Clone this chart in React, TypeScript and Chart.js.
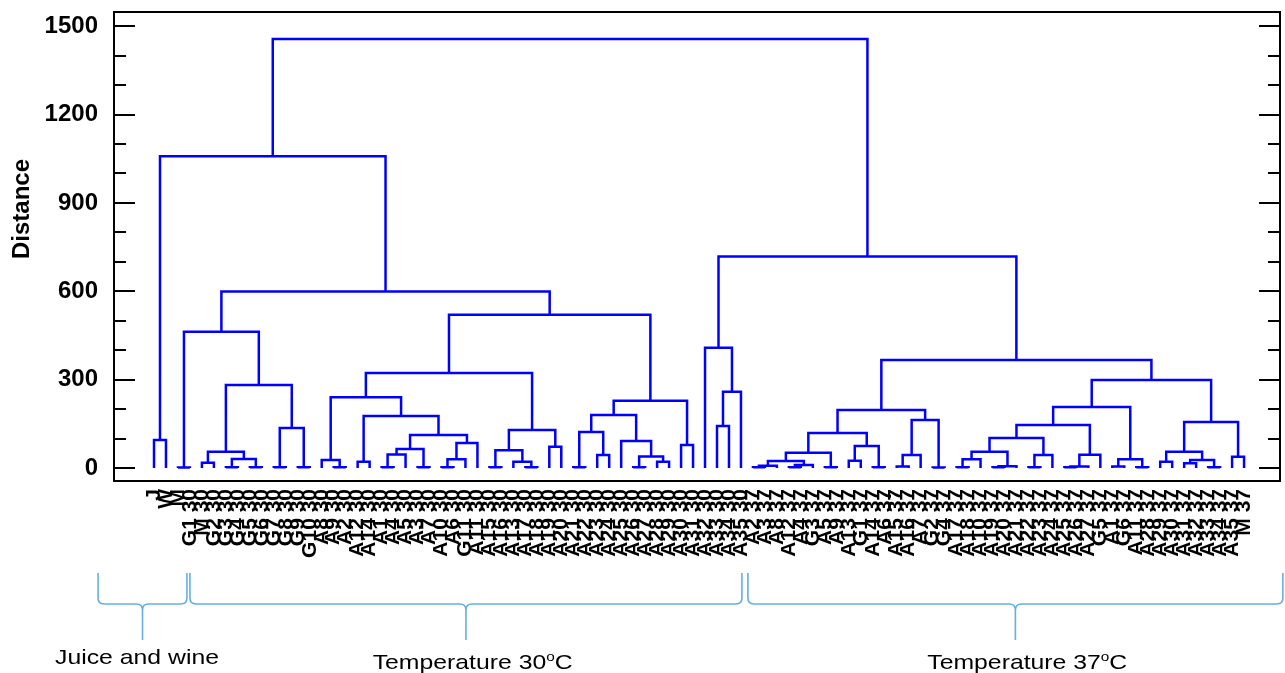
import React, { useEffect, useRef } from "react";
import { Chart, registerables } from "chart.js";

Chart.register(...registerables);

// Leaf labels in dendrogram order
const juiceLabels = ["J", "W", "M"];
const temp30Labels = [
  "G1 30", "M 30", "G2 30", "G3 30", "G4 30", "G5 30", "G6 30", "G7 30", "G8 30", "G9 30", "G10 30",
  "A8 30", "A9 30", "A2 30", "A12 30", "A14 30", "A1 30", "A4 30", "A5 30", "A3 30", "A7 30",
  "A10 30", "A6 30", "G11 30", "A11 30", "A15 30", "A16 30", "A13 30", "A17 30", "A18 30", "A19 30",
  "A20 30", "A21 30", "A22 30", "A23 30", "A24 30", "A25 30", "A26 30", "A27 30", "A28 30", "A29 30",
  "A30 30", "A31 30", "A32 30", "A33 30", "A34 30", "A35 30",
];
const temp37Labels = [
  "A2 37", "A3 37", "A8 37", "A12 37", "A4 37", "G3 37", "A5 37", "A9 37", "A13 37", "G1 37",
  "A14 37", "A6 37", "A15 37", "A16 37", "A7 37", "G2 37", "G4 37", "A17 37", "A18 37", "A10 37",
  "A19 37", "A20 37", "A21 37", "A22 37", "A23 37", "A24 37", "A25 37", "A26 37", "A27 37", "G5 37",
  "A1 37", "G6 37", "A11 37", "A28 37", "A29 37", "A30 37", "A31 37", "A32 37", "A33 37", "A34 37",
  "A35 37", "M 37",
];
const leafLabels = [...juiceLabels, ...temp30Labels, ...temp37Labels];

// Merges: [first leaf, last leaf of left child, last leaf, distance]
const mergesJuice30 = [
  [0, 0, 1, 95], [2, 2, 3, 2], [4, 4, 5, 18], [6, 6, 7, 3], [8, 8, 9, 3], [6, 7, 9, 31],
  [4, 5, 9, 55], [10, 10, 11, 3], [12, 12, 13, 3], [10, 11, 13, 136], [4, 9, 13, 282],
  [2, 3, 13, 463], [15, 15, 16, 3], [14, 14, 16, 27], [17, 17, 18, 21], [19, 19, 20, 3],
  [19, 20, 21, 46], [22, 22, 23, 3], [19, 21, 23, 65], [24, 24, 25, 3], [24, 25, 26, 30],
  [24, 26, 27, 85], [19, 23, 27, 112], [17, 18, 27, 177], [14, 16, 27, 240], [28, 28, 29, 3],
  [31, 31, 32, 3], [30, 30, 32, 21], [28, 29, 32, 60], [33, 33, 34, 72], [28, 32, 34, 129],
  [14, 27, 34, 323], [35, 35, 36, 3], [37, 37, 38, 44], [35, 36, 38, 122], [40, 40, 41, 3],
  [42, 42, 43, 21], [40, 41, 43, 39], [39, 39, 43, 92], [35, 38, 43, 180], [44, 44, 45, 78],
  [35, 43, 45, 228], [14, 34, 45, 520], [2, 13, 45, 599], [0, 1, 45, 1058],
];
const merges37 = [
  [47, 47, 48, 143], [47, 48, 49, 259], [46, 46, 49, 408], [50, 50, 51, 3], [50, 51, 52, 8],
  [53, 53, 54, 3], [53, 54, 55, 10], [50, 52, 55, 24], [56, 56, 57, 3], [50, 55, 57, 52],
  [58, 58, 59, 25], [60, 60, 61, 3], [58, 59, 61, 75], [50, 57, 61, 119], [62, 62, 63, 5],
  [62, 63, 64, 44], [65, 65, 66, 2], [62, 64, 66, 163], [50, 61, 66, 197], [67, 67, 68, 3],
  [67, 68, 69, 30], [70, 70, 71, 3], [70, 71, 72, 6], [67, 69, 72, 55], [73, 73, 74, 3],
  [73, 74, 75, 44], [67, 72, 75, 102], [76, 76, 77, 3], [76, 77, 78, 5], [76, 78, 79, 45],
  [67, 75, 79, 146], [80, 80, 81, 5], [82, 82, 83, 3], [80, 81, 83, 30], [67, 79, 83, 207],
  [84, 84, 85, 21], [86, 86, 87, 16], [88, 88, 89, 3], [86, 87, 89, 27], [84, 85, 89, 55],
  [90, 90, 91, 38], [84, 89, 91, 156], [67, 83, 91, 299], [50, 66, 91, 367], [46, 49, 91, 718],
];
const mergesTop = [[0, 45, 91, 1456]];

const yTickValues = [0, 300, 600, 900, 1200, 1500];
const yMinorStep = 100;

// Group annotations (brace spans and label centres in leaf-index units)
const groupNames = ["Juice and wine", "Temperature 30", "Temperature 37"];
const groupSup = ["", "o", "o"];
const groupTail = ["", "C", "C"];
const braceFrom = [-4.67, 3.0, 49.58];
const braceTo = [2.75, 49.08, 94.24];
const groupTextCenter = [-1.42, 26.6, 72.9];
const groupBaseline = [664, 669, 669];

const FONT = '"Liberation Sans", Arial, sans-serif';
const LINE_COLOR = "#0000ff";

function buildSegments() {
  const all = [...mergesJuice30, ...merges37, ...mergesTop].slice().sort((a, b) => (a[2] - a[0]) - (b[2] - b[0]));
  const map = new Map<string, { x: number; h: number }>();
  const info = (a: number, b: number) => {
    if (a === b) return { x: a, h: 0 };
    const c = map.get(a + ":" + b);
    return c || { x: (a + b) / 2, h: 0 };
  };
  const pts: { x: number; y: number | null }[] = [];
  for (const [a, s, b, h] of all) {
    const L = info(a, s);
    const R = info(s + 1, b);
    map.set(a + ":" + b, { x: (L.x + R.x) / 2, h });
    pts.push({ x: L.x, y: L.h }, { x: L.x, y: h }, { x: R.x, y: h }, { x: R.x, y: R.h }, { x: R.x, y: null });
  }
  return pts;
}

const decorPlugin = {
  id: "decor",
  afterDraw(chart: any) {
    const { ctx, chartArea: ca, scales } = chart;
    const xs = scales.x;
    const ys = scales.y;
    ctx.save();
    // inner tick marks on both sides
    ctx.strokeStyle = "#000";
    ctx.lineWidth = 2;
    const top = yTickValues[yTickValues.length - 1];
    for (let v = 0; v <= top; v += yMinorStep) {
      const y = Math.round(ys.getPixelForValue(v));
      const len = yTickValues.includes(v) ? 21 : 12;
      ctx.beginPath();
      ctx.moveTo(ca.left, y);
      ctx.lineTo(ca.left + len, y);
      ctx.moveTo(ca.right, y);
      ctx.lineTo(ca.right - len, y);
      ctx.stroke();
    }
    // box
    ctx.strokeRect(ca.left, ca.top, ca.right - ca.left, ca.bottom - ca.top);

    // y title
    ctx.save();
    ctx.translate(22, ca.top + (ca.bottom - ca.top) * 0.42);
    ctx.rotate(-Math.PI / 2);
    ctx.font = `bold 24px ${FONT}`;
    ctx.fillStyle = "#000";
    ctx.textAlign = "center";
    ctx.textBaseline = "middle";
    ctx.fillText("Distance", 0, 0);
    ctx.restore();

    // braces
    const y0 = 573, y1 = 604, y2 = 640, r = 6;
    ctx.strokeStyle = "rgb(100,175,228)";
    ctx.lineWidth = 1.6;
    for (let g = 0; g < groupNames.length; g++) {
      const xa = xs.getPixelForValue(braceFrom[g]);
      const xb = xs.getPixelForValue(braceTo[g]);
      const xm = (xa + xb) / 2;
      ctx.beginPath();
      ctx.moveTo(xa, y0);
      ctx.lineTo(xa, y1 - r);
      ctx.quadraticCurveTo(xa, y1, xa + r, y1);
      ctx.lineTo(xm - r, y1);
      ctx.quadraticCurveTo(xm, y1, xm, y1 + r);
      ctx.lineTo(xm, y2);
      ctx.moveTo(xm, y1 + r);
      ctx.quadraticCurveTo(xm, y1, xm + r, y1);
      ctx.lineTo(xb - r, y1);
      ctx.quadraticCurveTo(xb, y1, xb, y1 - r);
      ctx.lineTo(xb, y0);
      ctx.stroke();

      // label
      const cx = xs.getPixelForValue(groupTextCenter[g]);
      ctx.save();
      ctx.translate(cx, groupBaseline[g]);
      ctx.scale(1.18, 1);
      const f = `21px ${FONT}`;
      const fs = `13px ${FONT}`;
      ctx.font = f;
      const w1 = ctx.measureText(groupNames[g]).width;
      const w3 = ctx.measureText(groupTail[g]).width;
      ctx.font = fs;
      const w2 = ctx.measureText(groupSup[g]).width;
      let x = -(w1 + w2 + w3) / 2;
      ctx.fillStyle = "#000";
      ctx.textAlign = "left";
      ctx.textBaseline = "alphabetic";
      ctx.font = f;
      ctx.fillText(groupNames[g], x, 0);
      x += w1;
      ctx.font = fs;
      if (groupSup[g]) ctx.fillText(groupSup[g], x, -8);
      x += w2;
      ctx.font = f;
      if (groupTail[g]) ctx.fillText(groupTail[g], x, 0);
      ctx.restore();
    }
    ctx.restore();
  },
};

export default function App() {
  const ref = useRef<HTMLCanvasElement | null>(null);
  useEffect(() => {
    if (!ref.current) return;
    const chart = new Chart(ref.current, {
      type: "line",
      data: {
        datasets: [
          {
            data: buildSegments() as any,
            borderColor: LINE_COLOR,
            borderWidth: 2.5,
            pointRadius: 0,
            spanGaps: false,
            tension: 0,
            fill: false,
          },
        ],
      },
      options: {
        animation: false,
        responsive: false,
        events: [],
        layout: { padding: { top: 12, right: 5, left: 0, bottom: 0 } },
        plugins: { legend: { display: false }, tooltip: { enabled: false } },
        scales: {
          x: {
            type: "linear",
            min: -3.34,
            max: 94.0,
            grid: { display: false, drawTicks: false },
            border: { display: false },
            afterBuildTicks: (s: any) => {
              s.ticks = leafLabels.map((_, i) => ({ value: i }));
            },
            afterFit: (s: any) => {
              s.height = 192;
              s.paddingLeft = 0;
              s.paddingRight = 0;
            },
            ticks: {
              autoSkip: false,
              minRotation: 90,
              maxRotation: 90,
              padding: 8,
              color: "#000",
              font: { family: FONT, size: 21, weight: "bold" },
              callback: (v: any) => leafLabels[v as number] ?? "",
            },
          },
          y: {
            type: "linear",
            min: -44,
            max: 1548,
            grid: { display: false, drawTicks: false },
            border: { display: false },
            afterBuildTicks: (s: any) => {
              s.ticks = yTickValues.map((v) => ({ value: v }));
            },
            afterFit: (s: any) => {
              s.width = 114;
              s.paddingTop = 0;
              s.paddingBottom = 0;
            },
            ticks: {
              padding: 16,
              color: "#000",
              font: { family: FONT, size: 24, weight: "bold" },
              callback: (v: any) => String(v),
            },
          },
        },
      },
      plugins: [decorPlugin],
    });
    return () => chart.destroy();
  }, []);
  return (
    <div style={{ position: "absolute", left: 0, top: 0, width: 1285, height: 673, background: "#fff" }}>
      <canvas ref={ref} width={1285} height={673} style={{ display: "block" }} />
    </div>
  );
}
